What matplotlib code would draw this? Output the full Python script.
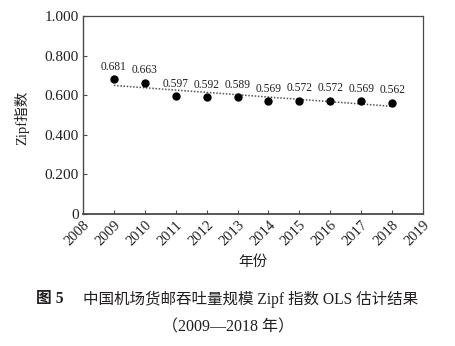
import matplotlib
matplotlib.use("Agg")
import matplotlib.pyplot as plt
import numpy as np

years = [2009, 2010, 2011, 2012, 2013, 2014, 2015, 2016, 2017, 2018]
zipf = [0.681, 0.663, 0.597, 0.592, 0.589, 0.569, 0.572, 0.572, 0.569, 0.562]
xticks = list(range(2008, 2020))
yticks = [0, 0.2, 0.4, 0.6, 0.8, 1.0]
ytick_labels = ["0", "0.200", "0.400", "0.600", "0.800", "1.000"]

serif = ["Liberation Serif", "Noto Sans CJK SC"]
cjk = ["Liberation Serif", "Noto Sans CJK SC"]
txt = "#231f20"
spine_c = "#4a4a4a"

fig = plt.figure(figsize=(4.56, 3.46), dpi=100)
ax = fig.add_axes([83/456, 1-214/346, 340/456, 198/346])

ax.plot(years, zipf, "o", color="black", markersize=5, zorder=3)
coef = np.polyfit(years, zipf, 1)
xs = np.array([years[0], years[-1]])
ax.plot(xs, np.polyval(coef, xs), linestyle=(0, (1, 1.1)), color="#555555", linewidth=1.1, zorder=2)

for x, y in zip(years, zipf):
    ax.annotate(f"{y:.3f}", (x, y), xytext=(0, 4.5), textcoords="offset points",
                ha="center", va="bottom", fontsize=8.3, color=txt, family=serif)

ax.set_xlim(2008, 2019)
ax.set_ylim(0, 1.0)
ax.set_xticks(xticks)
ax.set_xticklabels([str(t) for t in xticks], rotation=45, ha="right", va="top",
                   rotation_mode="anchor", fontsize=10.5, color=txt, family=serif)
ax.set_yticks(yticks)
ax.set_yticklabels(ytick_labels, fontsize=11, color=txt, family=serif)
ax.tick_params(axis="both", direction="in", length=3, width=0.8, color=spine_c, pad=3)
for s in ax.spines.values():
    s.set_color(spine_c)
    s.set_linewidth(0.9)
ax.spines["left"].set_linewidth(1.0)
ax.spines["bottom"].set_linewidth(1.3)

fig.text(22/456, 1-118/346, "Zipf指数", rotation=90, ha="center", va="center",
         fontsize=10.5, color=txt, family=cjk)
fig.text(253/456, 1-262/346, "年份", ha="center", va="center",
         fontsize=10.5, color=txt, family=cjk)
fig.text(50/456, 1-299/346, "图 5", ha="center", va="center",
         fontsize=11.3, fontweight="bold", color=txt, family=cjk)
fig.text(83/456, 1-299/346, "中国机场货邮吞吐量规模 Zipf 指数 OLS 估计结果",
         ha="left", va="center", fontsize=11.2, color=txt, family=cjk)
fig.text(228/456, 1-327/346, "（2009—2018 年）", ha="center", va="center",
         fontsize=11.5, color=txt, family=cjk)

fig.savefig("out.png", dpi=100)
